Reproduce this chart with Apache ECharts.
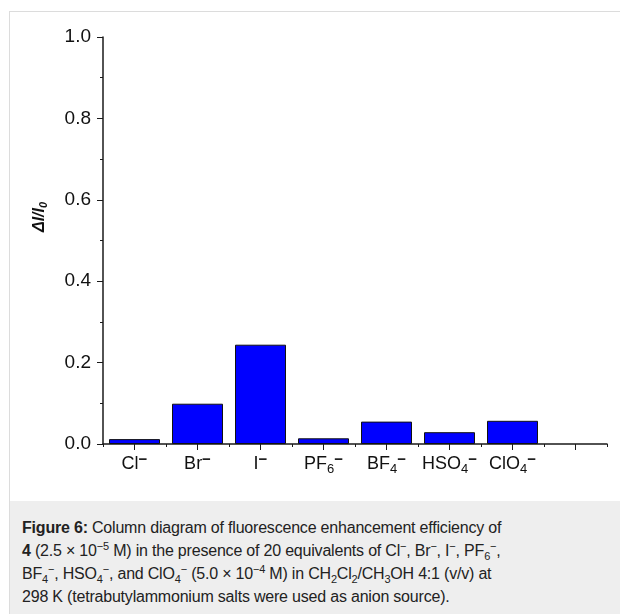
<!DOCTYPE html>
<html>
<head>
<meta charset="utf-8">
<script src="https://cdn.jsdelivr.net/npm/echarts@6/dist/echarts.min.js"></script>
<style>
  html, body { margin: 0; padding: 0; background: #fff; }
  body { width: 620px; height: 614px; position: relative; overflow: hidden; font-family: "Liberation Sans", Arial, sans-serif; }
  #frame { position: absolute; left: 9px; top: 11px; width: 640px; height: 640px; border: 1px solid #dcdcdc; box-sizing: border-box; }
  #chart { position: absolute; left: 0; top: 0; width: 620px; height: 501px; }
  #caption { position: absolute; left: 10px; top: 501px; width: 620px; height: 113px; background: #eeeeee;
    box-sizing: border-box; padding: 15px 0 0 12px; font-size: 16px; line-height: 23px; color: #222;
    white-space: nowrap; letter-spacing: -0.2px; }
  #caption sup, #caption sub { font-size: 11px; line-height: 0; }
</style>
</head>
<body>
<div id="frame"></div>
<div id="chart"></div>
<div id="caption">
<b>Figure 6:</b> Column diagram of fluorescence enhancement efficiency of<br>
<b>4</b> (2.5 × 10<sup>−5</sup> M) in the presence of 20 equivalents of Cl<sup>−</sup>, Br<sup>−</sup>, I<sup>−</sup>, PF<sub>6</sub><sup>−</sup>,<br>
BF<sub>4</sub><sup>−</sup>, HSO<sub>4</sub><sup>−</sup>, and ClO<sub>4</sub><sup>−</sup> (5.0 × 10<sup>−4</sup> M) in CH<sub>2</sub>Cl<sub>2</sub>/CH<sub>3</sub>OH 4:1 (v/v) at<br>
298 K (tetrabutylammonium salts were used as anion source).
</div>
<script>
// anions (last slot is an empty category, as in the original plot)
const anions = ['Cl', 'Br', 'I', 'PF6', 'BF4', 'HSO4', 'ClO4', '']
// fluorescence enhancement ΔI/I0
const enhancement = [0.012, 0.099, 0.244, 0.014, 0.055, 0.029, 0.057, null]
const yTicks = [0, 0.2, 0.4, 0.6, 0.8, 1.0]

const axisColor = '#1a1a1a'

// 'PF6' -> rich text with subscript digits and a superscript minus
const anionLabel = (name) => {
    if (!name) return ''
    const parts = name.match(/[A-Za-z]+|\d+/g)
    return parts.map(t => /\d/.test(t) ? '{sub|' + t + '}' : '{n|' + t + '}').join('') + '{sup|−}'
}

const chart = echarts.init(document.getElementById('chart'), null, { renderer: 'canvas' })

const option = {
    animation: false,
    backgroundColor: 'transparent',
    textStyle: { fontFamily: '"Liberation Sans", Arial, sans-serif' },
    grid: { left: 103, top: 37, width: 504, height: 407 },
    xAxis: [
        {
            type: 'category',
            data: anions,
            position: 'bottom',
            axisLine: { show: true, lineStyle: { color: axisColor, width: 1.5 } },
            axisTick: { show: true, alignWithLabel: true, length: 6, lineStyle: { color: axisColor } },
            axisLabel: {
                interval: 0,
                margin: 8,
                color: '#111',
                formatter: anionLabel,
                rich: {
                    n: { fontSize: 18, lineHeight: 24, verticalAlign: 'middle', color: '#111' },
                    sub: { fontSize: 13, lineHeight: 14, verticalAlign: 'bottom', color: '#111' },
                    sup: { fontSize: 15, lineHeight: 16, verticalAlign: 'top', color: '#111', fontWeight: 'bold' }
                }
            },
            splitLine: { show: false }
        },
        {
            type: 'category',
            data: anions,
            position: 'bottom',
            axisLine: { show: false },
            axisTick: { show: true, interval: 0, length: 3, lineStyle: { color: axisColor } },
            axisLabel: { show: false },
            splitLine: { show: false }
        }
    ],
    yAxis: {
        type: 'value',
        min: yTicks[0],
        max: yTicks[yTicks.length - 1],
        interval: 0.2,
        axisLine: { show: true, lineStyle: { color: axisColor, width: 1.5 } },
        axisTick: { show: true, length: 6, lineStyle: { color: axisColor } },
        minorTick: { show: true, splitNumber: 2, length: 3, lineStyle: { color: axisColor } },
        axisLabel: {
            margin: 12,
            fontSize: 19,
            color: '#111',
            formatter: (v) => v.toFixed(1)
        },
        splitLine: { show: false }
    },
    graphic: [{
        type: 'text',
        x: 40,
        y: 217,
        rotation: Math.PI / 2,
        style: {
            text: '{a|ΔI/I}{b|0}',
            align: 'center',
            verticalAlign: 'middle',
            rich: {
                a: { fontSize: 16, fontWeight: 'bold', fontStyle: 'italic', fill: '#111', lineHeight: 18, verticalAlign: 'middle' },
                b: { fontSize: 11, fontWeight: 'bold', fontStyle: 'italic', fill: '#111', lineHeight: 12, verticalAlign: 'bottom' }
            }
        }
    }],
    series: [{
        type: 'bar',
        xAxisIndex: 0,
        data: enhancement,
        barWidth: 51,
        itemStyle: { color: '#0000ff', borderColor: '#111', borderWidth: 1 }
    }]
}

chart.setOption(option)
</script>
</body>
</html>
